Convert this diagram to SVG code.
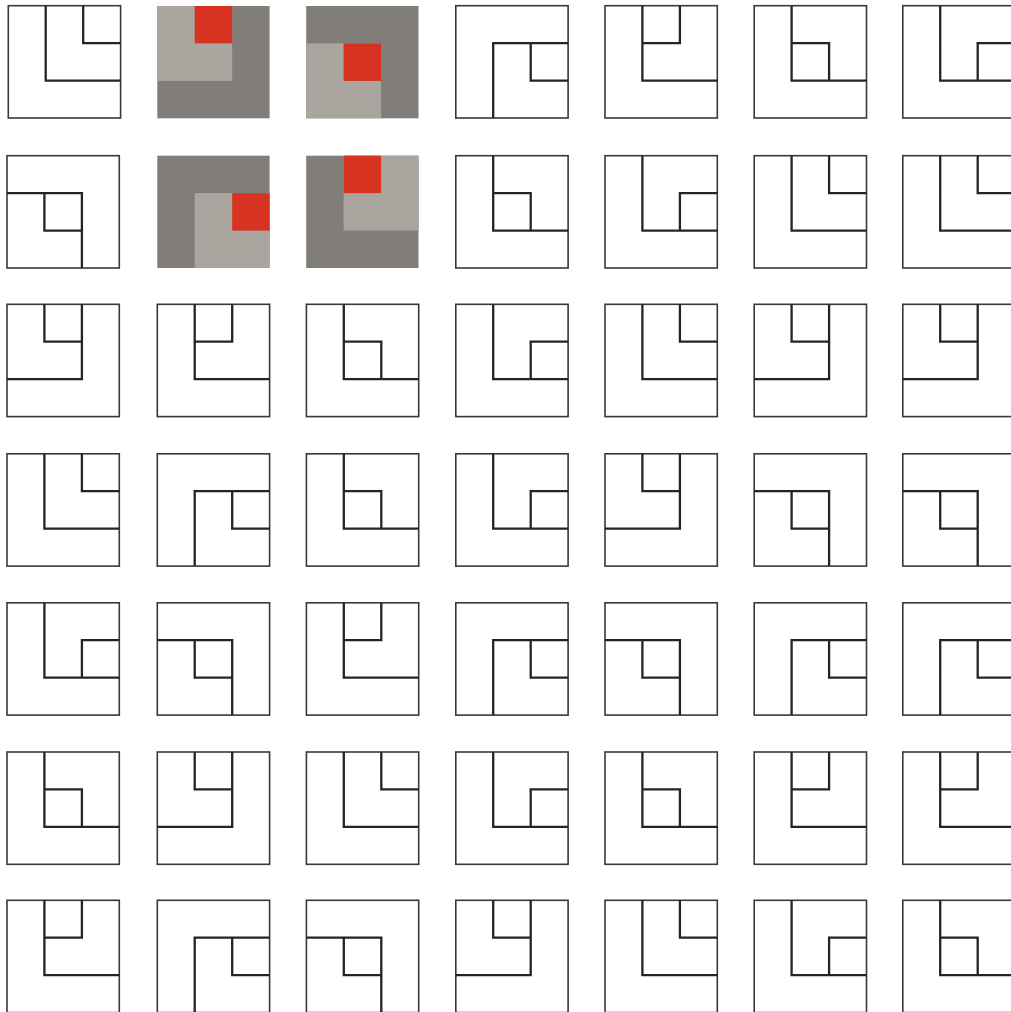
<svg xmlns="http://www.w3.org/2000/svg" width="1011" height="1012" viewBox="0 0 1011 1012">
<style>
.o{fill:#fff;stroke:#3a3937;stroke-width:1.6}
.i{fill:none;stroke:#252422;stroke-width:2.3;stroke-linejoin:miter}
.dk{fill:#817e79}
.lt{fill:#aaa69f}
.rd{fill:#d63420}
</style>
<defs>
<rect id="box" class="o" x="0" y="0" width="112.3" height="112.3"/>
</defs>
<rect width="1011" height="1012" fill="#fff"/>
<!-- row 0 -->
<g id="n00" transform="translate(8.3,5.7)"><use href="#box"/><path class="i" d="M37.4 0V74.9H112.3M74.9 0V37.4H112.3"/></g>
<g id="n01" transform="translate(157.3,6)"><rect class="dk" width="112.3" height="112.3"/><rect class="lt" width="74.9" height="74.9"/><rect class="rd" x="37.4" width="37.5" height="37.4"/></g>
<g id="n02" transform="translate(306.2,6)"><rect class="dk" width="112.3" height="112.3"/><rect class="lt" y="37.4" width="74.9" height="74.9"/><rect class="rd" x="37.4" y="37.4" width="37.5" height="37.5"/></g>
<g id="n03" transform="translate(455.8,5.7)"><use href="#box"/><path class="i" d="M112.3 37.4H37.4V112.3M74.9 37.4V74.9H112.3"/></g>
<g id="n04" transform="translate(605,5.7)"><use href="#box"/><path class="i" d="M37.4 0V74.9H112.3M74.9 0V37.4H37.4"/></g>
<g id="n05" transform="translate(754.2,5.7)"><use href="#box"/><path class="i" d="M37.4 0V74.9H112.3M74.9 74.9V37.4H37.4"/></g>
<g id="n06" transform="translate(902.8,5.7)"><use href="#box"/><path class="i" d="M37.4 0V74.9H112.3M74.9 74.9V37.4H112.3"/></g>
<!-- row 1 -->
<g id="n10" transform="translate(7,155.7)"><use href="#box"/><path class="i" d="M0 37.4H74.9V112.3M37.4 37.4V74.9H74.9"/></g>
<g id="n11" transform="translate(157.3,155.7)"><rect class="dk" width="112.3" height="112.3"/><rect class="lt" x="37.4" y="37.4" width="74.9" height="74.9"/><rect class="rd" x="74.9" y="37.4" width="37.4" height="37.5"/></g>
<g id="n12" transform="translate(306.2,155.7)"><rect class="dk" width="112.3" height="112.3"/><rect class="lt" x="37.4" width="74.9" height="74.9"/><rect class="rd" x="37.4" width="37.5" height="37.4"/></g>
<g id="n13" transform="translate(455.8,155.7)"><use href="#box"/><path class="i" d="M37.4 0V74.9H112.3M74.9 74.9V37.4H37.4"/></g>
<g id="n14" transform="translate(605,155.7)"><use href="#box"/><path class="i" d="M37.4 0V74.9H112.3M74.9 74.9V37.4H112.3"/></g>
<g id="n15" transform="translate(754.2,155.7)"><use href="#box"/><path class="i" d="M37.4 0V74.9H112.3M74.9 0V37.4H112.3"/></g>
<g id="n16" transform="translate(902.8,155.7)"><use href="#box"/><path class="i" d="M37.4 0V74.9H112.3M74.9 0V37.4H112.3"/></g>
<!-- row 2 -->
<g id="n20" transform="translate(7,304.3)"><use href="#box"/><path class="i" d="M74.9 0V74.9H0M37.4 0V37.4H74.9"/></g>
<g id="n21" transform="translate(157.3,304.3)"><use href="#box"/><path class="i" d="M37.4 0V74.9H112.3M74.9 0V37.4H37.4"/></g>
<g id="n22" transform="translate(306.4,304.3)"><use href="#box"/><path class="i" d="M37.4 0V74.9H112.3M74.9 74.9V37.4H37.4"/></g>
<g id="n23" transform="translate(455.8,304.3)"><use href="#box"/><path class="i" d="M37.4 0V74.9H112.3M74.9 74.9V37.4H112.3"/></g>
<g id="n24" transform="translate(605,304.3)"><use href="#box"/><path class="i" d="M37.4 0V74.9H112.3M74.9 0V37.4H112.3"/></g>
<g id="n25" transform="translate(754.2,304.3)"><use href="#box"/><path class="i" d="M74.9 0V74.9H0M37.4 0V37.4H74.9"/></g>
<g id="n26" transform="translate(902.8,304.3)"><use href="#box"/><path class="i" d="M74.9 0V74.9H0M37.4 0V37.4H74.9"/></g>
<!-- row 3 -->
<g id="n30" transform="translate(7,453.8)"><use href="#box"/><path class="i" d="M37.4 0V74.9H112.3M74.9 0V37.4H112.3"/></g>
<g id="n31" transform="translate(157.3,453.8)"><use href="#box"/><path class="i" d="M112.3 37.4H37.4V112.3M74.9 37.4V74.9H112.3"/></g>
<g id="n32" transform="translate(306.4,453.8)"><use href="#box"/><path class="i" d="M37.4 0V74.9H112.3M74.9 74.9V37.4H37.4"/></g>
<g id="n33" transform="translate(455.8,453.8)"><use href="#box"/><path class="i" d="M37.4 0V74.9H112.3M74.9 74.9V37.4H112.3"/></g>
<g id="n34" transform="translate(605,453.8)"><use href="#box"/><path class="i" d="M74.9 0V74.9H0M37.4 0V37.4H74.9"/></g>
<g id="n35" transform="translate(754.2,453.8)"><use href="#box"/><path class="i" d="M0 37.4H74.9V112.3M37.4 37.4V74.9H74.9"/></g>
<g id="n36" transform="translate(902.8,453.8)"><use href="#box"/><path class="i" d="M0 37.4H74.9V112.3M37.4 37.4V74.9H74.9"/></g>
<!-- row 4 -->
<g id="n40" transform="translate(7,602.8)"><use href="#box"/><path class="i" d="M37.4 0V74.9H112.3M74.9 74.9V37.4H112.3"/></g>
<g id="n41" transform="translate(157.3,602.8)"><use href="#box"/><path class="i" d="M0 37.4H74.9V112.3M37.4 37.4V74.9H74.9"/></g>
<g id="n42" transform="translate(306.4,602.8)"><use href="#box"/><path class="i" d="M37.4 0V74.9H112.3M74.9 0V37.4H37.4"/></g>
<g id="n43" transform="translate(455.8,602.8)"><use href="#box"/><path class="i" d="M112.3 37.4H37.4V112.3M74.9 37.4V74.9H112.3"/></g>
<g id="n44" transform="translate(605,602.8)"><use href="#box"/><path class="i" d="M0 37.4H74.9V112.3M37.4 37.4V74.9H74.9"/></g>
<g id="n45" transform="translate(754.2,602.8)"><use href="#box"/><path class="i" d="M112.3 37.4H37.4V112.3M74.9 37.4V74.9H112.3"/></g>
<g id="n46" transform="translate(902.8,602.8)"><use href="#box"/><path class="i" d="M112.3 37.4H37.4V112.3M74.9 37.4V74.9H112.3"/></g>
<!-- row 5 -->
<g id="n50" transform="translate(7,752)"><use href="#box"/><path class="i" d="M37.4 0V74.9H112.3M74.9 74.9V37.4H37.4"/></g>
<g id="n51" transform="translate(157.3,752)"><use href="#box"/><path class="i" d="M74.9 0V74.9H0M37.4 0V37.4H74.9"/></g>
<g id="n52" transform="translate(306.4,752)"><use href="#box"/><path class="i" d="M37.4 0V74.9H112.3M74.9 0V37.4H112.3"/></g>
<g id="n53" transform="translate(455.8,752)"><use href="#box"/><path class="i" d="M37.4 0V74.9H112.3M74.9 74.9V37.4H112.3"/></g>
<g id="n54" transform="translate(605,752)"><use href="#box"/><path class="i" d="M37.4 0V74.9H112.3M74.9 74.9V37.4H37.4"/></g>
<g id="n55" transform="translate(754.2,752)"><use href="#box"/><path class="i" d="M37.4 0V74.9H112.3M74.9 0V37.4H37.4"/></g>
<g id="n56" transform="translate(902.8,752)"><use href="#box"/><path class="i" d="M37.4 0V74.9H112.3M74.9 0V37.4H37.4"/></g>
<!-- row 6 -->
<g id="n60" transform="translate(7,900.3)"><use href="#box"/><path class="i" d="M37.4 0V74.9H112.3M74.9 0V37.4H37.4"/></g>
<g id="n61" transform="translate(157.3,900.3)"><use href="#box"/><path class="i" d="M112.3 37.4H37.4V112.3M74.9 37.4V74.9H112.3"/></g>
<g id="n62" transform="translate(306.4,900.3)"><use href="#box"/><path class="i" d="M0 37.4H74.9V112.3M37.4 37.4V74.9H74.9"/></g>
<g id="n63" transform="translate(455.8,900.3)"><use href="#box"/><path class="i" d="M74.9 0V74.9H0M37.4 0V37.4H74.9"/></g>
<g id="n64" transform="translate(605,900.3)"><use href="#box"/><path class="i" d="M37.4 0V74.9H112.3M74.9 0V37.4H112.3"/></g>
<g id="n65" transform="translate(754.2,900.3)"><use href="#box"/><path class="i" d="M37.4 0V74.9H112.3M74.9 74.9V37.4H112.3"/></g>
<g id="n66" transform="translate(902.8,900.3)"><use href="#box"/><path class="i" d="M37.4 0V74.9H112.3M74.9 74.9V37.4H37.4"/></g>
<g id="connectors"></g>
</svg>
